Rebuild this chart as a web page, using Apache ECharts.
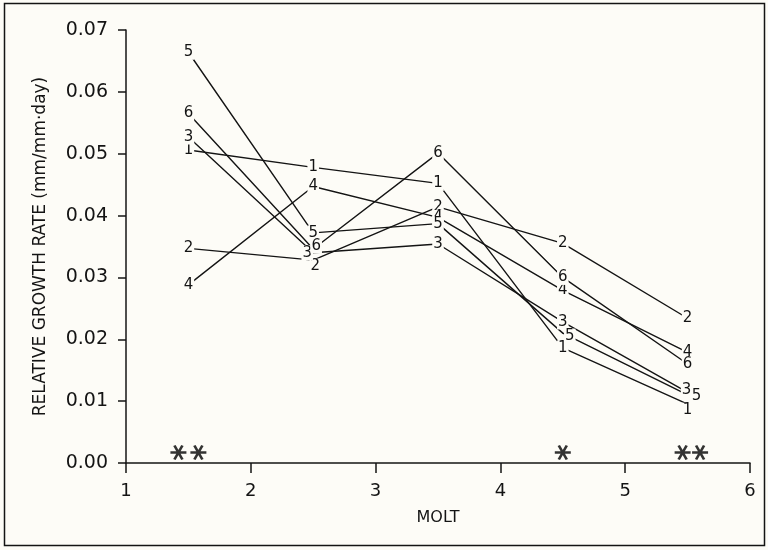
<!DOCTYPE html>
<html>
<head>
<meta charset="utf-8">
<script src="https://cdn.jsdelivr.net/npm/echarts@6/dist/echarts.min.js"></script>
<style>
html,body{margin:0;padding:0;background:#fdfcf7;}
#c{width:768px;height:550px;}
</style>
</head>
<body>
<div id="c"></div>
<script>
var molts = [1.5, 2.5, 3.5, 4.5, 5.5];
var seriesNames = ['1', '2', '3', '4', '5', '6'];
var s1 = [0.0506, 0.0478, 0.0452, 0.0186, 0.0095];
var s2 = [0.0347, 0.0328, 0.0414, 0.0355, 0.0234];
var s3 = [0.0527, 0.0340, 0.0354, 0.0228, 0.0114];
var s4 = [0.0288, 0.0447, 0.0397, 0.0279, 0.0179];
var s5 = [0.0664, 0.0372, 0.0387, 0.0210, 0.0110];
var s6 = [0.0565, 0.0346, 0.0501, 0.0300, 0.0160];
var starX = [1.42, 1.58, 4.5, 5.46, 5.6];
var starY = [0.0017, 0.0017, 0.0017, 0.0017, 0.0017];
var xTicks = [1, 2, 3, 4, 5, 6];
var yTicks = [0, 0.01, 0.02, 0.03, 0.04, 0.05, 0.06, 0.07];

var allSeries = [s1, s2, s3, s4, s5, s6];
var bg = '#fdfcf7';
var ink = '#141414';
var font = 'DejaVu Sans';

// small label nudges to keep overlapping numerals readable
var nudges = {
  '2': {1: [2, 6]},
  '3': {1: [-6, 0], 4: [-1, -2]},
  '5': {3: [7, 3], 4: [9, 1]},
  '6': {1: [3, -3]},
  '1': {4: [0, 6]}
};

var series = allSeries.map(function (vals, si) {
  var name = seriesNames[si];
  return {
    type: 'line',
    name: name,
    data: vals.map(function (v, i) {
      var d = {value: [molts[i], v]};
      if (nudges[name] && nudges[name][i]) {
        d.label = {offset: nudges[name][i]};
      }
      return d;
    }),
    symbol: 'circle',
    symbolSize: 1,
    itemStyle: {color: ink},
    lineStyle: {color: ink, width: 1.4},
    label: {
      show: true,
      position: 'inside',
      formatter: name,
      color: ink,
      fontFamily: font,
      fontSize: 15,
      backgroundColor: bg,
      padding: [0, 1]
    },
    z: 2,
    animation: false
  };
});

series.push({
  type: 'scatter',
  data: starX.map(function (x, i) { return [x, starY[i]]; }),
  symbol: 'path://M-10,0 L10,0 M-5,-8.66 L5,8.66 M-5,8.66 L5,-8.66',
  symbolSize: [16, 14],
  itemStyle: {color: 'none', borderColor: '#000', borderWidth: 2.5},
  animation: false,
  z: 3
});

var chart = echarts.init(document.getElementById('c'), null, {renderer: 'canvas'});
chart.setOption({
  backgroundColor: bg,
  animation: false,
  grid: {left: 126, right: 18, top: 30, bottom: 87},
  xAxis: {
    type: 'value',
    min: xTicks[0],
    max: xTicks[xTicks.length - 1],
    interval: 1,
    name: 'MOLT',
    nameLocation: 'middle',
    nameGap: 47,
    nameTextStyle: {color: ink, fontFamily: font, fontSize: 16},
    axisLine: {show: true, lineStyle: {color: ink, width: 1.5}},
    axisTick: {show: true, length: 10, lineStyle: {color: ink, width: 1.5}},
    axisLabel: {color: ink, fontFamily: font, fontSize: 18, margin: 19},
    splitLine: {show: false}
  },
  yAxis: {
    type: 'value',
    min: yTicks[0],
    max: yTicks[yTicks.length - 1],
    interval: 0.01,
    name: 'RELATIVE GROWTH RATE (mm/mm·day)',
    nameLocation: 'middle',
    nameGap: 77,
    nameRotate: 90,
    nameTextStyle: {color: ink, fontFamily: font, fontSize: 17},
    axisLine: {show: true, lineStyle: {color: ink, width: 1.5}},
    axisTick: {show: true, length: 8, lineStyle: {color: ink, width: 1.5}},
    axisLabel: {color: ink, fontFamily: font, fontSize: 19, margin: 18,
      formatter: function (v) { return v.toFixed(2); }},
    splitLine: {show: false}
  },
  graphic: [{
    type: 'rect',
    shape: {x: 4.5, y: 3.5, width: 760, height: 542},
    style: {fill: 'none', stroke: ink, lineWidth: 1.5},
    silent: true,
    z: 0
  }],
  series: series
});
</script>
</body>
</html>
